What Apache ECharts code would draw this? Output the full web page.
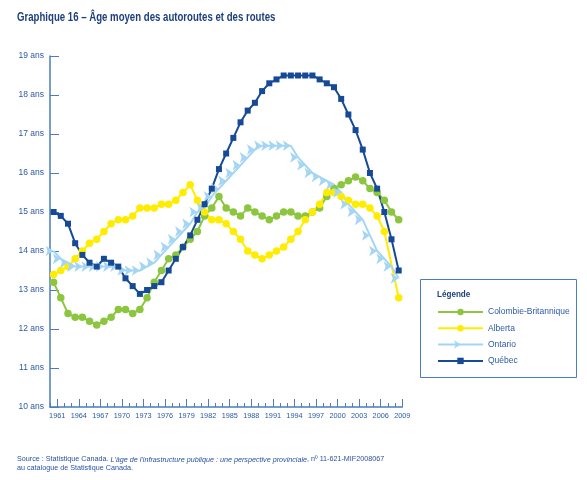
<!DOCTYPE html>
<html><head><meta charset="utf-8">
<script src="https://cdn.jsdelivr.net/npm/echarts@6/dist/echarts.min.js"></script>
<style>html,body{margin:0;padding:0;background:#fff}#c{width:587px;height:480px}</style>
</head><body><div id="c"></div>
<script>
const years = [1961,1962,1963,1964,1965,1966,1967,1968,1969,1970,1971,1972,1973,1974,1975,1976,1977,1978,1979,1980,1981,1982,1983,1984,1985,1986,1987,1988,1989,1990,1991,1992,1993,1994,1995,1996,1997,1998,1999,2000,2001,2002,2003,2004,2005,2006,2007,2008,2009];
const axisCategories = ['',"1961","1962","1963","1964","1965","1966","1967","1968","1969","1970","1971","1972","1973","1974","1975","1976","1977","1978","1979","1980","1981","1982","1983","1984","1985","1986","1987","1988","1989","1990","1991","1992","1993","1994","1995","1996","1997","1998","1999","2000","2001","2002","2003","2004","2005","2006","2007","2008","2009"];
const tickLabels = ["1961","1964","1967","1970","1973","1976","1979","1982","1985","1988","1991","1994","1997","2000","2003","2006","2009"];
const colombieBritannique = [13.2,12.8,12.4,12.3,12.3,12.2,12.1,12.2,12.3,12.5,12.5,12.4,12.5,12.8,13.2,13.5,13.8,13.9,14.1,14.3,14.5,14.9,15.1,15.4,15.1,15.0,14.9,15.1,15.0,14.9,14.8,14.9,15.0,15.0,14.9,14.9,15.0,15.1,15.4,15.6,15.7,15.8,15.9,15.8,15.6,15.5,15.3,15.0,14.8];
const alberta = [13.4,13.5,13.6,13.8,14.0,14.2,14.3,14.5,14.7,14.8,14.8,14.9,15.1,15.1,15.1,15.2,15.2,15.3,15.5,15.7,15.3,15.0,14.8,14.8,14.7,14.5,14.3,14.0,13.9,13.8,13.9,14.0,14.1,14.3,14.5,14.8,15.0,15.2,15.5,15.5,15.4,15.3,15.2,15.2,15.1,14.9,14.5,null,12.8];
const ontario = [14.0,13.8,13.7,13.6,13.6,13.6,13.6,13.6,13.6,13.6,13.5,13.5,13.5,13.6,13.7,13.9,14.1,14.3,14.5,14.7,15.0,15.1,15.4,15.6,15.8,16.0,16.2,16.4,16.6,16.7,16.7,16.7,16.7,16.7,16.4,16.2,16.0,15.9,15.8,15.7,15.5,15.2,15.0,14.8,14.4,14.0,13.8,13.6,13.3];
const quebec = [15.0,14.9,14.7,14.2,13.9,13.7,13.6,13.8,13.7,13.6,13.3,13.1,12.9,13.0,13.1,13.2,13.5,13.8,14.1,14.4,14.8,15.2,15.6,16.1,16.5,16.9,17.3,17.6,17.8,18.1,18.3,18.4,18.5,18.5,18.5,18.5,18.5,18.4,18.3,18.2,17.9,17.5,17.1,16.6,16.0,15.6,15.0,14.3,13.5];
const yTicks = {min: 10, max: 19, step: 1};

const FONT = '"Liberation Sans",Arial,sans-serif';
const AXIS = '#4a7cc0';
const TXT = '#2c5aa5';
const pair = arr => years.map((y, i) => [y, arr[i]]);
const isMajor = (i, v) => tickLabels.indexOf(v) >= 0;

const chart = echarts.init(document.getElementById('c'), null, {renderer: 'canvas'});
chart.setOption({
  animation: false,
  title: [
    {text: '{a|Source : Statistique Canada. }{i|L\'âge de l\'infrastructure publique : une perspective provinciale}{a|, nº 11-621-MIF2008067}\n{a|au catalogue de Statistique Canada.}',
     left: 17, top: 455, padding: 0,
     textStyle: {fontWeight: 'normal', rich: {
       a: {fontFamily: FONT, fontSize: 7.2, fontWeight: 'normal', color: '#2a52a0', lineHeight: 9},
       i: {fontFamily: FONT, fontSize: 7.2, fontWeight: 'normal', fontStyle: 'italic', color: '#2a52a0', lineHeight: 9}
     }}}
  ],
  grid: {left: 50, top: 56, width: 352.3, height: 351, containLabel: false},
  legend: {
    orient: 'vertical', left: 437, top: 307, padding: 0, itemWidth: 45, itemHeight: 8, itemGap: 6.3,
    textStyle: {fontFamily: FONT, fontSize: 8.5, color: TXT, lineHeight: 10},
    data: ['Colombie-Britannique', 'Alberta', 'Ontario', 'Québec']
  },
  graphic: [
    {type: 'text', x: 17, y: 11, scaleX: 0.77,
     style: {text: 'Graphique 16 – Âge moyen des autoroutes et des routes', fontFamily: FONT, fontSize: 12.5,
             fontWeight: 'bold', fill: '#1e3f7e', verticalAlign: 'top'}},
    {type: 'rect', shape: {x: 420.5, y: 279.5, width: 156, height: 98},
     style: {fill: 'none', stroke: AXIS, lineWidth: 1}, z: 0},
    {type: 'text', x: 437, y: 290, scaleX: 0.9,
     style: {text: 'Légende', fontFamily: FONT, fontSize: 9, fontWeight: 'bold', fill: '#1e3f7e', verticalAlign: 'top'}}
  ],
  xAxis: [
    {type: 'value', min: 1960.5, max: 2009.5, show: false},
    {type: 'category', data: axisCategories, boundaryGap: false, position: 'bottom',
     axisLine: {lineStyle: {color: AXIS, width: 1.5}},
     axisTick: {show: true, inside: true, length: 4, interval: 0, lineStyle: {color: AXIS, width: 1}},
     axisLabel: {show: false}, splitLine: {show: false}},
    {type: 'category', data: axisCategories, boundaryGap: false, position: 'bottom',
     axisLine: {show: false},
     axisTick: {show: true, inside: true, length: 8, interval: isMajor, lineStyle: {color: AXIS, width: 1}},
     axisLabel: {show: true, interval: isMajor, margin: 5, fontFamily: FONT, fontSize: 7.3, color: TXT},
     splitLine: {show: false}}
  ],
  yAxis: {
    type: 'value', min: yTicks.min, max: yTicks.max, interval: yTicks.step,
    axisLine: {show: true, lineStyle: {color: AXIS, width: 1.5}},
    axisTick: {show: true, inside: true, length: 9, lineStyle: {color: AXIS, width: 1}},
    axisLabel: {formatter: '{value} ans', margin: 6, fontFamily: FONT, fontSize: 8.5, color: TXT},
    splitLine: {show: false}
  },
  series: [
    {name: 'Colombie-Britannique', type: 'line', xAxisIndex: 0, data: pair(colombieBritannique),
     symbol: 'circle', symbolSize: 7.5, lineStyle: {width: 2, color: '#8cc63f'},
     itemStyle: {color: '#8cc63f'}},
    {name: 'Alberta', type: 'line', xAxisIndex: 0, data: pair(alberta), connectNulls: true,
     symbol: 'circle', symbolSize: 7.5, lineStyle: {width: 2, color: '#ffec00'},
     itemStyle: {color: '#ffec00'}},
    {name: 'Ontario', type: 'line', xAxisIndex: 0, data: pair(ontario),
     symbol: 'arrow', symbolSize: 8, symbolRotate: -90, lineStyle: {width: 2, color: '#a4d6f4'},
     itemStyle: {color: '#a4d6f4'}},
    {name: 'Québec', type: 'line', xAxisIndex: 0, data: pair(quebec),
     symbol: 'rect', symbolSize: 6, lineStyle: {width: 2, color: '#174a96'},
     itemStyle: {color: '#174a96'}}
  ]
});
</script></body></html>
